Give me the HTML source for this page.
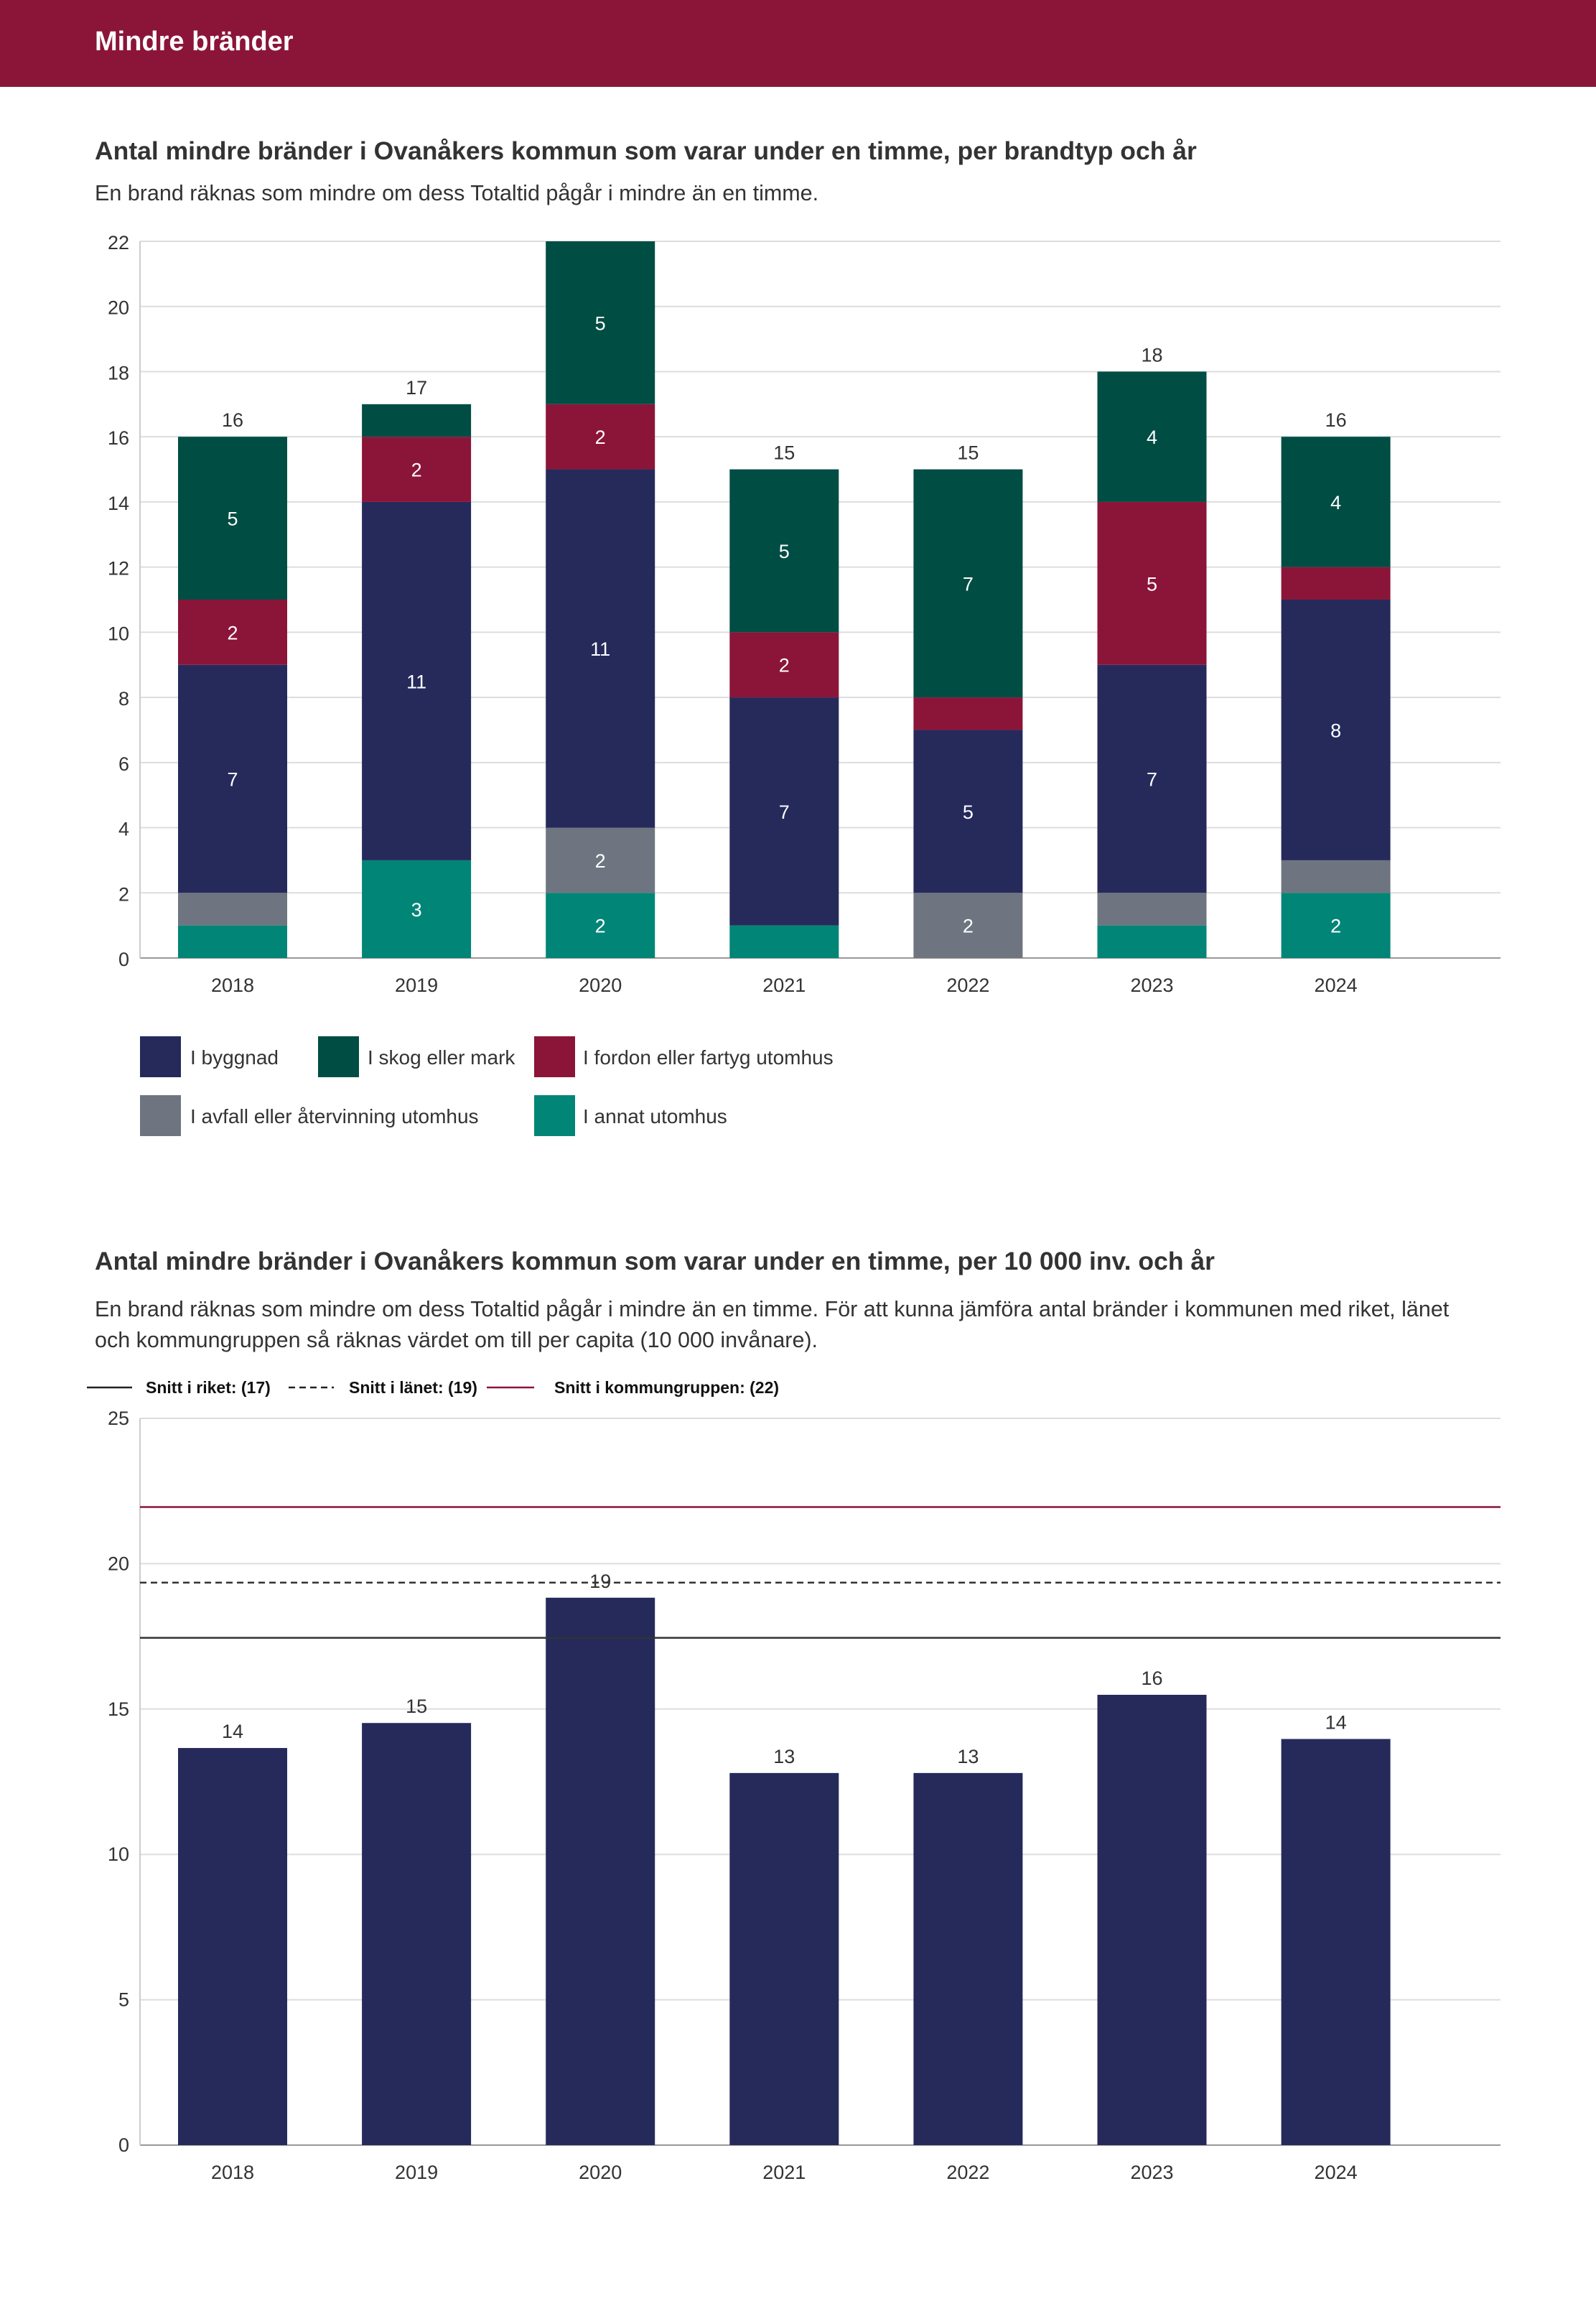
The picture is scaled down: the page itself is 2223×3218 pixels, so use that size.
<!DOCTYPE html>
<html><head><meta charset="utf-8">
<style>
html,body{margin:0;padding:0;background:#fff;}
body{width:2223px;height:3213px;overflow:hidden;font-family:"Liberation Sans",sans-serif;}
svg text{font-family:"Liberation Sans",sans-serif;}
</style></head>
<body>
<svg id="svg" width="2223" height="3213" viewBox="0 0 2223 3213" xmlns="http://www.w3.org/2000/svg">
<rect x="0" y="0" width="2223" height="121" fill="#8b1538"/>
<text x="132" y="70" font-size="38" font-weight="bold" fill="#fff">Mindre bränder</text>
<text x="132" y="222" font-size="35.5" font-weight="bold" fill="#333">Antal mindre bränder i Ovanåkers kommun som varar under en timme, per brandtyp och år</text>
<text x="132" y="279" font-size="30.5" fill="#333">En brand räknas som mindre om dess Totaltid pågår i mindre än en timme.</text>
<g id="c1"></g>
<g>
<rect x="195" y="1443" width="57" height="57" fill="#252a5b"/>
<text x="265" y="1482" font-size="28" fill="#333">I byggnad</text>
<rect x="443" y="1443" width="57" height="57" fill="#004d44"/>
<text x="512" y="1482" font-size="28" fill="#333">I skog eller mark</text>
<rect x="744" y="1443" width="57" height="57" fill="#8b1538"/>
<text x="812" y="1482" font-size="28" fill="#333">I fordon eller fartyg utomhus</text>
<rect x="195" y="1525" width="57" height="57" fill="#6e7580"/>
<text x="265" y="1564" font-size="28" fill="#333">I avfall eller återvinning utomhus</text>
<rect x="744" y="1525" width="57" height="57" fill="#008577"/>
<text x="812" y="1564" font-size="28" fill="#333">I annat utomhus</text>
</g>
<text x="132" y="1768" font-size="35.5" font-weight="bold" fill="#333">Antal mindre bränder i Ovanåkers kommun som varar under en timme, per 10 000 inv. och år</text>
<text x="132" y="1833" font-size="30.5" fill="#333">En brand räknas som mindre om dess Totaltid pågår i mindre än en timme. För att kunna jämföra antal bränder i kommunen med riket, länet</text>
<text x="132" y="1876" font-size="30.5" fill="#333">och kommungruppen så räknas värdet om till per capita (10 000 invånare).</text>
<g>
<line x1="121" y1="1932" x2="184" y2="1932" stroke="#222" stroke-width="2.5"/>
<text x="203" y="1940" font-size="23" font-weight="bold" fill="#111">Snitt i riket: (17)</text>
<line x1="402" y1="1932" x2="465" y2="1932" stroke="#222" stroke-width="2.5" stroke-dasharray="9,6"/>
<text x="486" y="1940" font-size="23" font-weight="bold" fill="#111">Snitt i länet: (19)</text>
<line x1="678" y1="1932" x2="744" y2="1932" stroke="#8b1538" stroke-width="2.5"/>
<text x="772" y="1940" font-size="23" font-weight="bold" fill="#111">Snitt i kommungruppen: (22)</text>
</g>
<g id="c2"></g>
</svg>
<script>
const years = ["2018","2019","2020","2021","2022","2023","2024"];
const annat = [1,3,2,1,0,1,2];
const avfall = [1,0,2,0,2,1,1];
const byggnad = [7,11,11,7,5,7,8];
const fordon = [2,2,2,2,1,5,1];
const skog = [5,1,5,5,7,4,4];
const ticks1 = [0,2,4,6,8,10,12,14,16,18,20,22];
const perCapita = [13.66,14.52,18.83,12.8,12.8,15.49,13.97];
const perCapitaLabels = ["14","15","19","13","13","16","14"];
const ticks2 = [0,5,10,15,20,25];
const riket = 17.45;
const lanet = 19.35;
const kommungrupp = 21.95;

const NS="http://www.w3.org/2000/svg";
function mk(parent,tag,attrs,text){const e=document.createElementNS(NS,tag);for(const k in attrs)e.setAttribute(k,attrs[k]);if(text!==undefined)e.textContent=text;parent.appendChild(e);return e;}
const X0=195,X1=2090,band=256.1,firstC=324,bw=152;
function xc(i){return firstC+band*i;}

// chart 1
const c1=document.getElementById('c1');
const y1=v=>1334-v*(998/22);
ticks1.forEach(t=>{
  const l=mk(c1,'line',{x1:X0,x2:X1,y1:y1(t),y2:y1(t),stroke:t===0?'#999':'#ddd','stroke-width':2});
  
  
  const tx=mk(c1,'text',{x:180,y:y1(t)+11,'font-size':27,fill:'#333','text-anchor':'end'},t);
  
  
});
const ax=mk(c1,'line',{x1:X0,x2:X0,y1:y1(22),y2:y1(0),stroke:'#ccc','stroke-width':2});


const series=[[annat,'#008577','annat'],[avfall,'#6e7580','avfall'],[byggnad,'#252a5b','byggnad'],[fordon,'#8b1538','fordon'],[skog,'#004d44','skog']];
years.forEach((yr,i)=>{
  let base=0;
  series.forEach(([arr,col,nm])=>{
    const v=arr[i];
    if(v>0){
      const r=mk(c1,'rect',{x:xc(i)-bw/2,y:y1(base+v),width:bw,height:y1(base)-y1(base+v),fill:col});
      
      
      if(v>=2){
        const t=mk(c1,'text',{x:xc(i),y:(y1(base)+y1(base+v))/2+10,'font-size':27,fill:'#fff','text-anchor':'middle'},v);
        
        
      }
    }
    base+=v;
  });
  if(base<ticks1[ticks1.length-1]){
    const tot=mk(c1,'text',{x:xc(i),y:y1(base)-14,'font-size':27,fill:'#333','text-anchor':'middle'},base);
    
    
  }
  const xl=mk(c1,'text',{x:xc(i),y:1381,'font-size':27,fill:'#333','text-anchor':'middle'},yr);
  
  
});

// chart 2
const c2=document.getElementById('c2');
const y2=v=>2987-v*(1012/25);
ticks2.forEach(t=>{
  const l=mk(c2,'line',{x1:X0,x2:X1,y1:y2(t),y2:y2(t),stroke:t===0?'#999':'#ddd','stroke-width':2});
  
  
  const tx=mk(c2,'text',{x:180,y:y2(t)+9,'font-size':27,fill:'#333','text-anchor':'end'},t);
  
  
});
const ax2=mk(c2,'line',{x1:X0,x2:X0,y1:y2(25),y2:y2(0),stroke:'#ccc','stroke-width':2});


years.forEach((yr,i)=>{
  const v=perCapita[i];
  const r=mk(c2,'rect',{x:xc(i)-bw/2,y:y2(v),width:bw,height:y2(0)-y2(v),fill:'#252a5b'});
  
  
  const t=mk(c2,'text',{x:xc(i),y:y2(v)-14,'font-size':27,fill:'#333','text-anchor':'middle'},perCapitaLabels[i]);
  
  
  const xl=mk(c2,'text',{x:xc(i),y:3034,'font-size':27,fill:'#333','text-anchor':'middle'},yr);
  
  
});
const lr=mk(c2,'line',{x1:X0,x2:X1,y1:y2(riket),y2:y2(riket),stroke:'#333','stroke-width':2.5});


const ll=mk(c2,'line',{x1:X0,x2:X1,y1:y2(lanet),y2:y2(lanet),stroke:'#333','stroke-width':2.5,'stroke-dasharray':'9,6'});


const lk=mk(c2,'line',{x1:X0,x2:X1,y1:y2(kommungrupp),y2:y2(kommungrupp),stroke:'#8b1538','stroke-width':2.5});


</script>
</body></html>
